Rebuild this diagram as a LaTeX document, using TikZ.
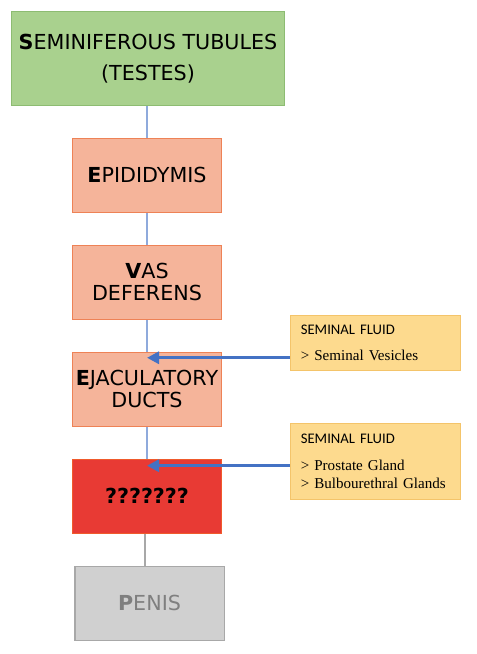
\documentclass[tikz,border=0pt]{standalone}
\usepackage{fontspec}
\setmainfont{DejaVu Sans}
\newfontfamily\headfont{Carlito}
\newfontfamily\listfont{Liberation Serif}
\usepackage{xcolor}
\usepackage{tikz}
\usetikzlibrary{shapes, arrows.meta, positioning, calc}

\definecolor{testesfill}{HTML}{A9D18E}
\definecolor{testesline}{HTML}{8DBC72}
\definecolor{ductfill}{HTML}{F5B49A}
\definecolor{ductline}{HTML}{EE8256}
\definecolor{unknownfill}{HTML}{E83A34}
\definecolor{unknownline}{HTML}{F05A2C}
\definecolor{penisfill}{HTML}{D0D0D0}
\definecolor{penisline}{HTML}{A8A8A8}
\definecolor{penistext}{HTML}{7F7F7F}
\definecolor{fluidfill}{HTML}{FDDA8E}
\definecolor{fluidline}{HTML}{F4C46A}
\definecolor{pipeblue}{HTML}{8FAADC}
\definecolor{flowblue}{HTML}{4472C4}

\begin{document}
\begin{tikzpicture}[x=0.75pt, y=-0.75pt, node distance=23.9pt, thick,
    organ/.style={draw=ductline, fill=ductfill, line width=0.8pt, minimum width=111.8pt, minimum height=55.5pt,
        align=center, inner sep=1pt, font=\fontsize{15.5}{16.5}\selectfont},
    fluid/.style={draw=fluidline, fill=fluidfill, line width=0.8pt, minimum width=127.5pt, text width=112pt,
        inner xsep=7.6pt, align=left, font=\listfont\fontsize{11.3}{13.5}\selectfont},
    pipe/.style={draw=pipeblue, line width=1.1pt},
    flow/.style={draw=flowblue, line width=2.3pt, -{Triangle[length=9pt,width=9pt]}}]

    \useasboundingbox (0,0) rectangle (476,654);

    % Nodes
    \node (testes) [organ, fill=testesfill, draw=testesline, minimum width=204.8pt, minimum height=70.5pt,
        font=\fontsize{15.5}{23}\selectfont] at (148,58.5) {\textbf{S}EMINIFEROUS TUBULES\\(TESTES)};
    \node (epididymis) [organ, below=of testes, xshift=-0.75pt] {\textbf{E}PIDIDYMIS};
    \node (vas) [organ, below=of epididymis] {\textbf{V}AS\\DEFERENS};
    \node (ejac) [organ, below=of vas] {\textbf{E}JACULATORY\\DUCTS};
    \node (unknown) [organ, fill=unknownfill, draw=unknownline, font=\bfseries\fontsize{15.5}{16.5}\selectfont,
        below=of ejac] {???????};
    \node (penis) [organ, fill=penisfill, draw=penisline, text=penistext, below=of unknown,
        xshift=1.9pt] {\textbf{P}ENIS};

    \node (fluidA) [fluid, minimum height=41.3pt] at (375.5,343)
        {{\headfont\fontsize{11}{13.5}\selectfont SEMINAL FLUID}\\[6.5pt]> Seminal Vesicles};
    \node (fluidB) [fluid, minimum height=57pt] at (375.5,461.5)
        {{\headfont\fontsize{11}{13.5}\selectfont SEMINAL FLUID}\\[6.5pt]> Prostate Gland\\> Bulbourethral Glands};

    % Lines between the organs
    \draw [pipe] (testes.south -| epididymis) -- (epididymis);
    \draw [pipe] (epididymis) -- (vas);
    \draw [pipe] (vas) -- (ejac);
    \draw [pipe] (ejac) -- (unknown);
    \coordinate (unknownOut) at ($(unknown.south)+(-2,0)$);
    \draw [draw=penisline, line width=1.1pt] (unknownOut) -- (unknownOut |- penis.north);

    % Fluids coming in
    \coordinate (ejacIn) at ($(ejac.north)+(0,6)$);
    \coordinate (unknownIn) at ($(unknown.north)+(0,7)$);
    \draw [flow] (fluidA.west |- ejacIn) -- (ejacIn);
    \draw [flow] (fluidB.west |- unknownIn) -- (unknownIn);

\end{tikzpicture}
\end{document}
